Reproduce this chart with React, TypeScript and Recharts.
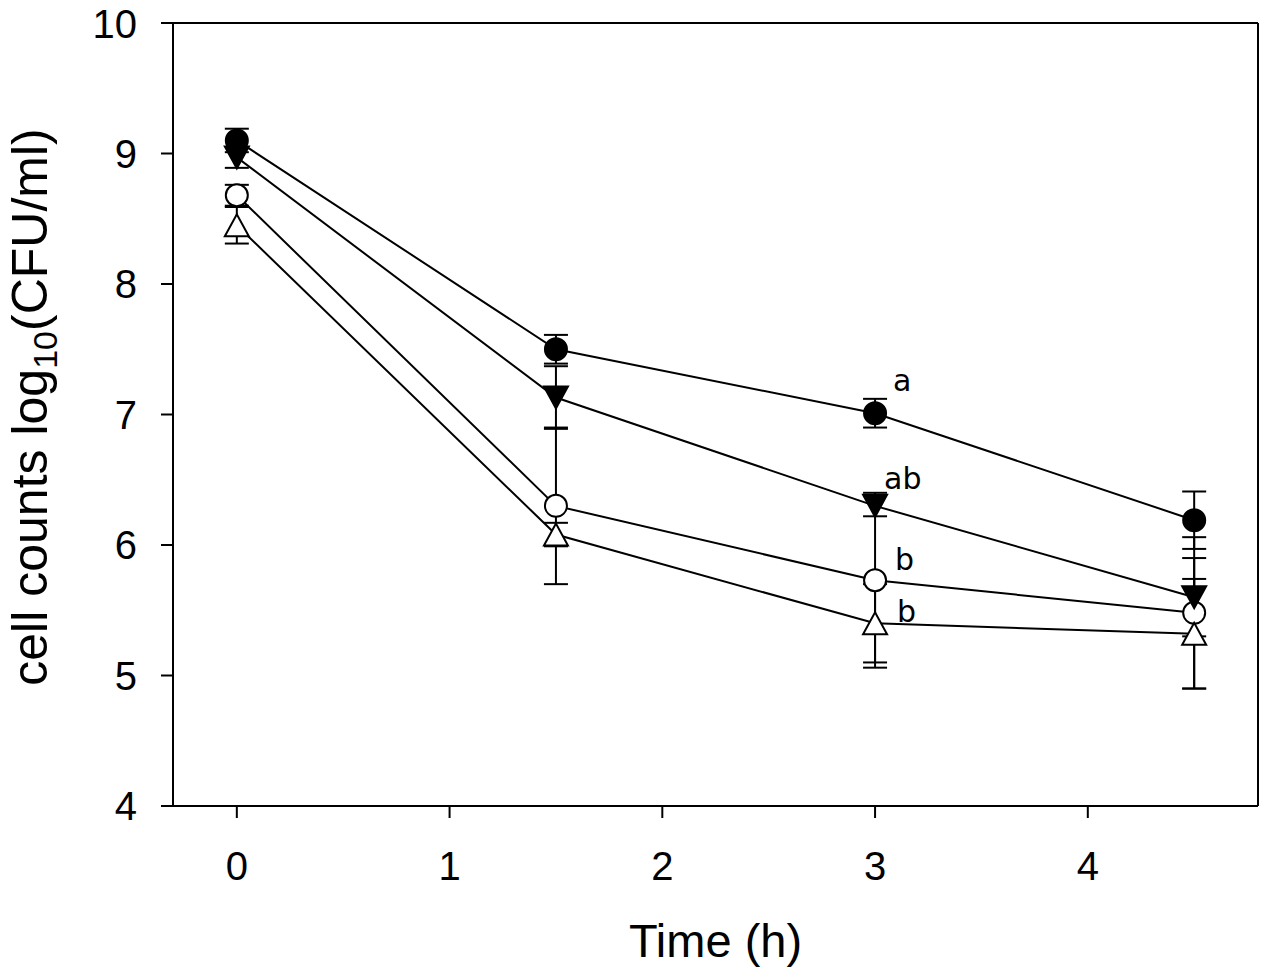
import React from "react";
import { ComposedChart, Line, XAxis, YAxis, ErrorBar, ReferenceLine } from "recharts";

// sampling times (h)
const times = [0, 1.5, 3, 4.5];

// log10 CFU/ml, mean and SD per group
const filledCircle = [9.1, 7.5, 7.01, 6.19];
const filledCircleSd = [0.09, 0.11, 0.11, 0.22];
const filledTriangle = [8.97, 7.13, 6.3, 5.6];
const filledTriangleSd = [0.08, 0.24, 0.08, 0.3];
const openCircle = [8.68, 6.3, 5.73, 5.48];
const openCircleSd = [0.08, 0.6, 0.67, 0.58];
const openTriangle = [8.45, 6.08, 5.4, 5.32];
const openTriangleSd = [0.14, 0.09, 0.3, 0.42];

// significance letters shown at 3 h (filled circle, filled triangle, open circle, open triangle)
const letterTime = 3;
const groupLetters = ["a", "ab", "b", "b"];

const xTicks = [0, 1, 2, 3, 4];
const yTicks = [4, 5, 6, 7, 8, 9, 10];

const rows = times.map((t, i) => ({
  time: t,
  fc: filledCircle[i],
  fcSd: filledCircleSd[i],
  fcLetter: t === letterTime ? groupLetters[0] : null,
  ft: filledTriangle[i],
  ftSd: filledTriangleSd[i],
  ftLetter: t === letterTime ? groupLetters[1] : null,
  oc: openCircle[i],
  ocSd: openCircleSd[i],
  ocLetter: t === letterTime ? groupLetters[2] : null,
  ot: openTriangle[i],
  otSd: openTriangleSd[i],
  otLetter: t === letterTime ? groupLetters[3] : null,
}));

const FONT = "'Liberation Sans', Arial, sans-serif";
const LETTER_FONT = "'DejaVu Sans', Verdana, sans-serif";

type Kind = "fc" | "ft" | "oc" | "ot";

// where the letter sits relative to the marker
const letterOffset: Record<Kind, [number, number]> = {
  fc: [18, -22],
  ft: [9, -17],
  oc: [20, -10],
  ot: [22, -1],
};

function makeDot(kind: Kind) {
  return (props: any) => {
    const { cx, cy, payload, index } = props;
    if (cx == null || cy == null) return <g key={`${kind}-${index}`} />;
    const letter = payload ? payload[`${kind}Letter`] : null;
    let shape: React.ReactNode = null;
    if (kind === "fc") {
      shape = <circle cx={cx} cy={cy} r={11} fill="#000" stroke="#000" strokeWidth={2} />;
    } else if (kind === "oc") {
      shape = <circle cx={cx} cy={cy} r={11} fill="#fff" stroke="#000" strokeWidth={2} />;
    } else if (kind === "ft") {
      shape = (
        <polygon
          points={`${cx - 12},${cy - 11} ${cx + 12},${cy - 11} ${cx},${cy + 11}`}
          fill="#000"
          stroke="#000"
          strokeWidth={2}
        />
      );
    } else {
      shape = (
        <polygon
          points={`${cx - 12},${cy + 11} ${cx + 12},${cy + 11} ${cx},${cy - 11}`}
          fill="#fff"
          stroke="#000"
          strokeWidth={2}
        />
      );
    }
    const [dx, dy] = letterOffset[kind];
    return (
      <g key={`${kind}-${index}`}>
        {shape}
        {letter ? (
          <text x={cx + dx} y={cy + dy} fontSize={30} fontFamily={LETTER_FONT} fill="#000">
            {letter}
          </text>
        ) : null}
      </g>
    );
  };
}

const renderYTitle = () => (
  <text
    x={47}
    y={407}
    transform="rotate(-90, 47, 407)"
    textAnchor="middle"
    fontSize={50}
    fontFamily={FONT}
    fill="#000"
  >
    cell counts log
    <tspan fontSize={34} dy={10}>
      10
    </tspan>
    <tspan dy={-10}>(CFU/ml)</tspan>
  </text>
);

const series: Kind[] = ["oc", "ot", "ft", "fc"];

export default function App() {
  return (
    <div style={{ position: "absolute", left: 0, top: 0, background: "#fff" }}>
      <ComposedChart
        width={1267}
        height={979}
        data={rows}
        margin={{ top: 23, right: 9, bottom: 0, left: 0 }}
      >
        <XAxis
          dataKey="time"
          type="number"
          domain={[-0.3, 4.8]}
          ticks={xTicks}
          allowDataOverflow
          height={173}
          tickSize={12}
          tickMargin={34}
          axisLine={{ stroke: "#000", strokeWidth: 2 }}
          tickLine={{ stroke: "#000", strokeWidth: 2 }}
          tick={{ fill: "#000", fontSize: 40, fontFamily: FONT }}
          label={{
            value: "Time (h)",
            position: "insideBottom",
            offset: 22,
            fill: "#000",
            fontSize: 47,
            fontFamily: FONT,
          }}
        />
        <YAxis
          type="number"
          domain={[4, 10]}
          ticks={yTicks}
          allowDataOverflow
          width={173}
          tickSize={12}
          tickMargin={24}
          axisLine={{ stroke: "#000", strokeWidth: 2 }}
          tickLine={{ stroke: "#000", strokeWidth: 2 }}
          tick={{ fill: "#000", fontSize: 40, fontFamily: FONT }}
          label={renderYTitle}
        />
        <ReferenceLine y={10} stroke="#000" strokeWidth={2} />
        <ReferenceLine x={4.8} stroke="#000" strokeWidth={2} />
        {series.map((k) => (
          <Line
            key={k}
            dataKey={k}
            type="linear"
            stroke="#000"
            strokeWidth={2}
            dot={makeDot(k)}
            activeDot={false}
            isAnimationActive={false}
          >
            <ErrorBar dataKey={`${k}Sd`} direction="y" width={12} stroke="#000" strokeWidth={2} />
          </Line>
        ))}
      </ComposedChart>
    </div>
  );
}
